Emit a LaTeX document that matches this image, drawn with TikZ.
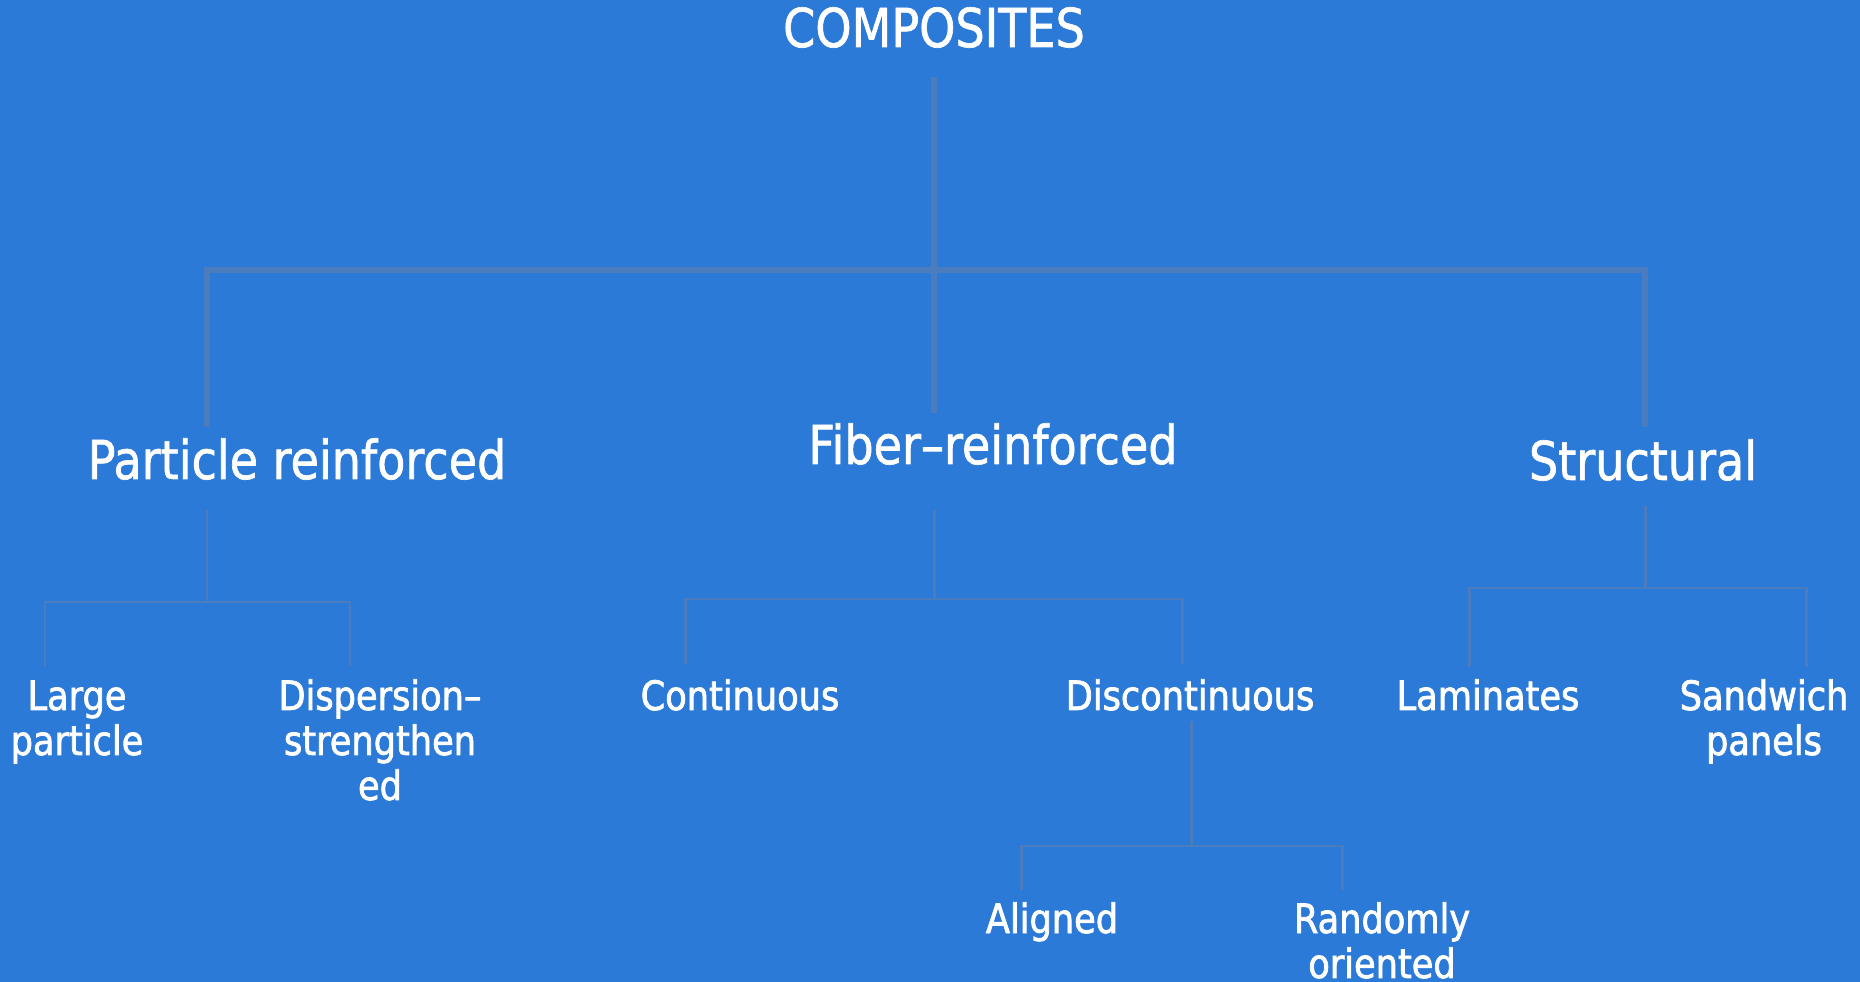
\documentclass[tikz,border=0pt]{standalone}
\usepackage{fontspec}
\setmainfont{DejaVu Sans}[FakeStretch=0.86]
\newfontfamily\bigfont{DejaVu Sans}[FakeStretch=0.86, FakeBold=1.2]
\newfontfamily\smallfont{DejaVu Sans}[FakeStretch=0.87, FakeBold=1.8]
\definecolor{bgblue}{RGB}{44,122,216}
\definecolor{linecol}{RGB}{74,124,190}
\tikzset{
  big/.style={text=white, inner sep=0pt, anchor=base, font=\bigfont\fontsize{30.5}{34}\selectfont},
  small/.style={text=white, inner sep=0pt, anchor=base, font=\smallfont\fontsize{23}{25.6}\selectfont},
  thick link/.style={draw=linecol, line width=3pt},
  thin link/.style={draw=linecol, line width=1.7pt},
}
\newcommand{\twol}[2]{\begin{tabular}[t]{@{}c@{}}#1\\#2\end{tabular}}
\newcommand{\threel}[3]{\begin{tabular}[t]{@{}c@{}}#1\\#2\\#3\end{tabular}}
\begin{document}
\begin{tikzpicture}[x=0.02cm, y=-0.02cm]
\fill[bgblue] (0,0) rectangle (1860,982);
\useasboundingbox (0,0) rectangle (1860,982);

% nodes
\node[big] (comp) at (934,47) {COMPOSITES};
\node[big] (part) at (297,479) {Particle reinforced};
\node[big] (fib) at (993,464) {Fiber–reinforced};
\node[big] (struc) at (1643,480) {Structural};

\renewcommand{\arraystretch}{1}
\node[small] (large) at (77,710) {\twol{Large}{particle}};
\node[small] (disp) at (380,710) {\threel{Dispersion–}{strengthen}{ed}};
\node[small] (cont) at (740,710) {Continuous};
\node[small] (disc) at (1190,710) {Discontinuous};
\node[small] (lam) at (1488,710) {Laminates};
\node[small] (sand) at (1764,710) {\twol{Sandwich}{panels}};
\node[small] (ali) at (1052,933) {Aligned};
\node[small] (rand) at (1382,933) {\twol{Randomly}{oriented}};

% junction coordinates
\coordinate (c-top) at (934,77);
\coordinate (c-bar) at (934,270);
\coordinate (p-top) at (207,270);
\coordinate (p-in) at (207,427);
\coordinate (f-in) at (934,413);
\coordinate (s-top) at (1645,270);
\coordinate (s-in) at (1645,427);

\coordinate (p-out) at (207,510);
\coordinate (p-bar) at (207,602);
\coordinate (l-top) at (45,602);
\coordinate (l-in) at (45,666);
\coordinate (d-top) at (350,602);
\coordinate (d-in) at (350,666);

\coordinate (f-out) at (934,510);
\coordinate (f-bar) at (934,599);
\coordinate (co-top) at (685,599);
\coordinate (co-in) at (685,664);
\coordinate (di-top) at (1182,599);
\coordinate (di-in) at (1182,664);

\coordinate (s-out) at (1645,506);
\coordinate (s-bar) at (1645,588);
\coordinate (la-top) at (1469,588);
\coordinate (la-in) at (1469,667);
\coordinate (sa-top) at (1806,588);
\coordinate (sa-in) at (1806,667);

\coordinate (di-out) at (1191,721);
\coordinate (di-bar) at (1191,846);
\coordinate (a-top) at (1021,846);
\coordinate (a-in) at (1021,890);
\coordinate (r-top) at (1342,846);
\coordinate (r-in) at (1342,890);

% connectors
\draw[thick link] (c-top) -- (c-bar);
\draw[thick link] (p-in) -- (p-top) -- (s-top) -- (s-in);
\draw[thick link] (c-bar) -- (f-in);

\draw[thin link] (p-out) -- (p-bar);
\draw[thin link] (l-in) -- (l-top) -- (d-top) -- (d-in);

\draw[thin link] (f-out) -- (f-bar);
\draw[thin link] (co-in) -- (co-top) -- (di-top) -- (di-in);

\draw[thin link] (s-out) -- (s-bar);
\draw[thin link] (la-in) -- (la-top) -- (sa-top) -- (sa-in);

\draw[thin link] (di-out) -- (di-bar);
\draw[thin link] (a-in) -- (a-top) -- (r-top) -- (r-in);
\end{tikzpicture}
\end{document}
